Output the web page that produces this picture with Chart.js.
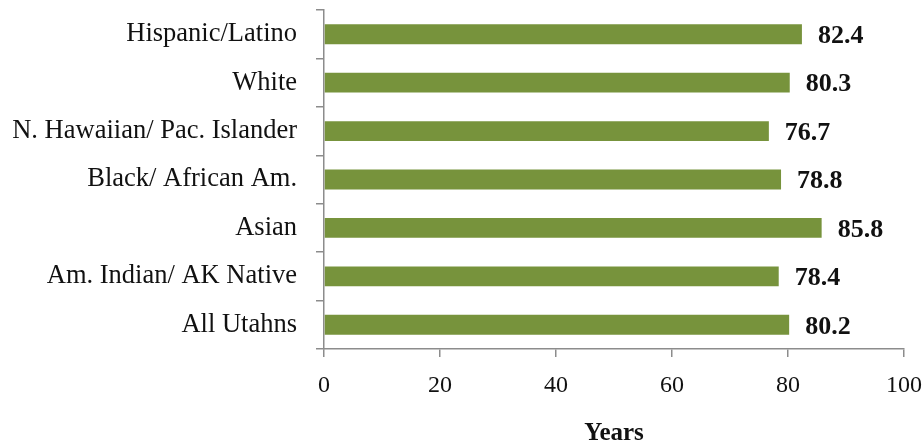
<!DOCTYPE html>
<html>
<head>
<meta charset="utf-8">
<script src="https://cdn.jsdelivr.net/npm/chart.js@4"></script>
<style>
  body { margin: 0; background: #fff; }
  #wrap { width: 922px; height: 440px; }
</style>
</head>
<body>
<div id="wrap"><canvas id="myChart" width="922" height="440"></canvas></div>
<script>
const categories = ['Hispanic/Latino', 'White', 'N. Hawaiian/ Pac. Islander', 'Black/ African Am.', 'Asian', 'Am. Indian/ AK Native', 'All Utahns'];
const lifeExpectancy = [82.4, 80.3, 76.7, 78.8, 85.8, 78.4, 80.2];
const xTicks = [0, 20, 40, 60, 80, 100];

const FONT = "'Liberation Serif', 'Times New Roman', serif";
const axisGrey = '#8c8c8c';

// value labels at the end of each bar
const barLabels = {
    id: 'barLabels',
    afterDatasetsDraw(chart) {
        const ctx = chart.ctx;
        const meta = chart.getDatasetMeta(0);
        ctx.save();
        ctx.font = 'bold 26px ' + FONT;
        ctx.fillStyle = '#111';
        ctx.textAlign = 'left';
        ctx.textBaseline = 'middle';
        meta.data.forEach((bar, i) => {
            ctx.fillText(lifeExpectancy[i].toFixed(1), bar.x + 16, bar.y + 2);
        });
        ctx.restore();
    }
};

const ctx = document.getElementById('myChart').getContext('2d');
new Chart(ctx, {
    type: 'bar',
    data: {
        labels: categories,
        datasets: [{
            data: lifeExpectancy,
            backgroundColor: '#77933c',
            borderWidth: 0,
            barPercentage: 0.41,
            categoryPercentage: 1
        }]
    },
    plugins: [barLabels],
    options: {
        indexAxis: 'y',
        responsive: false,
        animation: false,
        layout: { padding: { top: 10, right: 18, bottom: 0, left: 0 } },
        plugins: {
            legend: { display: false },
            tooltip: { enabled: false }
        },
        scales: {
            x: {
                min: 0,
                max: 100,
                afterBuildTicks(axis) {
                    axis.ticks = xTicks.map(v => ({ value: v }));
                },
                afterFit(axis) {
                    axis.height = 91;
                    axis.paddingLeft = 0;
                    axis.paddingRight = 0;
                },
                border: { color: axisGrey, width: 1.5 },
                grid: { drawOnChartArea: false, color: axisGrey, lineWidth: 1.5, tickLength: 8 },
                ticks: { color: '#111', font: { family: FONT, size: 24 }, padding: 14 },
                title: {
                    display: true,
                    text: 'Years',
                    color: '#111',
                    font: { family: FONT, size: 25, weight: 'bold' },
                    padding: { top: 0, bottom: -9 }
                }
            },
            y: {
                afterFit(axis) {
                    axis.width = 324;
                    axis.paddingTop = 0;
                    axis.paddingBottom = 0;
                },
                border: { color: axisGrey, width: 1.5 },
                grid: { drawOnChartArea: false, color: axisGrey, lineWidth: 1.5, tickLength: 8, offset: true },
                ticks: { color: '#111', font: { family: FONT, size: 26.5 }, padding: 19 }
            }
        }
    }
});
</script>
</body>
</html>
